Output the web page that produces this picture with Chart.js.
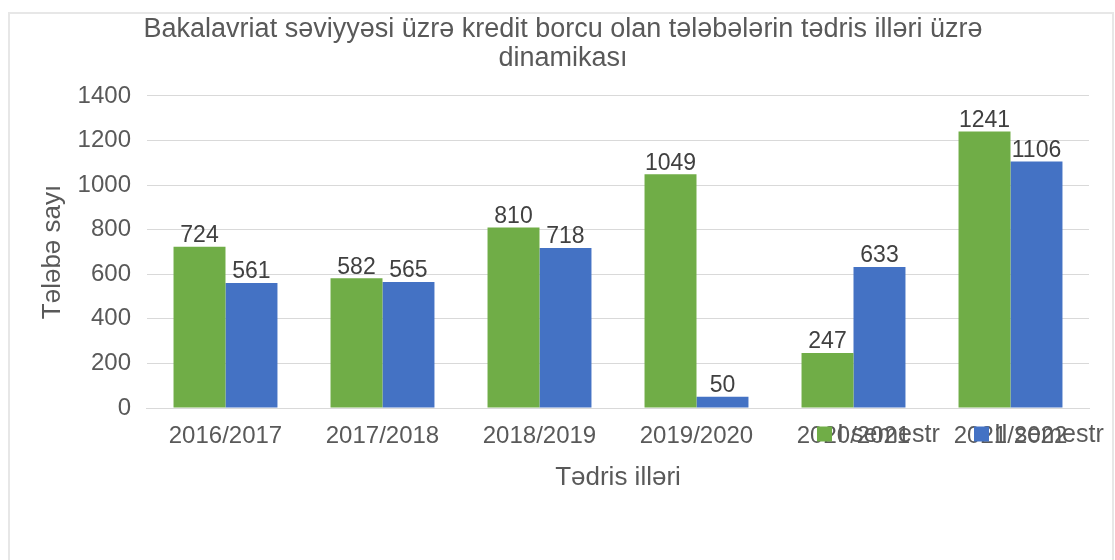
<!DOCTYPE html>
<html>
<head>
<meta charset="utf-8">
<script src="https://cdn.jsdelivr.net/npm/chart.js@4.4.1/dist/chart.umd.min.js"></script>
<style>
  html, body { margin: 0; padding: 0; background: #ffffff; }
  body { width: 1115px; height: 560px; position: relative; overflow: hidden; }
  #frame { position: absolute; left: 8px; top: 12px; width: 1106px; height: 560px; border: 2px solid #e7e7e7; box-sizing: border-box; }
  #c { position: absolute; left: 0; top: 0; }
</style>
</head>
<body>
<div id="frame"></div>
<canvas id="c" width="1115" height="560"></canvas>
<script>
const titleLines = ["Bakalavriat səviyyəsi üzrə kredit borcu olan tələbələrin tədris illəri üzrə", "dinamikası"];
const categories = ["2016/2017", "2017/2018", "2018/2019", "2019/2020", "2020/2021", "2021/2022"];
const seriesNames = ["I semestr", "II semestr"];
const semesterI = [724, 582, 810, 1049, 247, 1241];
const semesterII = [561, 565, 718, 50, 633, 1106];
const yTicks = [0, 200, 400, 600, 800, 1000, 1200, 1400];
const xTitle = "Tədris illəri";
const yTitle = "Tələbə sayı";

const FONT = "'Liberation Sans', Arial, sans-serif";
const TXT = "#595959";

const valueLabels = {
  id: 'valueLabels',
  afterDatasetsDraw(chart) {
    const ctx = chart.ctx;
    ctx.save();
    ctx.font = "23px " + FONT;
    ctx.fillStyle = "#404040";
    ctx.textAlign = "center";
    ctx.textBaseline = "middle";
    chart.data.datasets.forEach((ds, i) => {
      const meta = chart.getDatasetMeta(i);
      meta.data.forEach((bar, j) => {
        ctx.fillText(String(ds.data[j]), bar.x, bar.y - 11);
      });
    });
    ctx.restore();
  }
};

const customLegend = {
  id: 'customLegend',
  afterDraw(chart) {
    const ctx = chart.ctx;
    ctx.save();
    ctx.font = "25px " + FONT;
    ctx.textBaseline = "middle";
    ctx.textAlign = "left";
    const starts = [817, 974];
    const cy = 434;
    chart.data.datasets.forEach((ds, i) => {
      const x = starts[i];
      ctx.fillStyle = ds.backgroundColor;
      ctx.fillRect(x, cy - 7.5, 15, 15);
      ctx.fillStyle = TXT;
      ctx.fillText(ds.label, x + 20, cy + 1);
    });
    ctx.restore();
  }
};

new Chart(document.getElementById('c'), {
  type: 'bar',
  data: {
    labels: categories,
    datasets: [
      { label: seriesNames[0], data: semesterI, backgroundColor: "#70AD47", borderWidth: 0 },
      { label: seriesNames[1], data: semesterII, backgroundColor: "#4472C4", borderWidth: 0 }
    ]
  },
  options: {
    responsive: false,
    animation: false,
    devicePixelRatio: 1,
    layout: { padding: { left: 37, right: 26, top: 0, bottom: 30 } },
    datasets: { bar: { categoryPercentage: 0.662, barPercentage: 1.0 } },
    plugins: {
      legend: { display: false },
      tooltip: { enabled: false },
      title: {
        display: true,
        text: titleLines,
        color: TXT,
        font: { family: FONT, size: 27, weight: 'normal', lineHeight: 1.074 },
        padding: { top: 15.5, bottom: 22.5 }
      }
    },
    scales: {
      x: {
        grid: { display: false, drawTicks: false },
        border: { display: true, color: "#d9d9d9", width: 1 },
        ticks: { color: TXT, font: { family: FONT, size: 24 }, padding: 13.6, maxRotation: 0, autoSkip: false },
        title: { display: true, text: xTitle, color: TXT, font: { family: FONT, size: 26 }, padding: { top: -1.6, bottom: 36.4 } }
      },
      y: {
        min: 0, max: 1400,
        afterBuildTicks(scale) { scale.ticks = yTicks.map(v => ({ value: v })); },
        grid: { color: "#d9d9d9", lineWidth: 1, drawTicks: false },
        border: { display: false },
        ticks: { color: TXT, font: { family: FONT, size: 24 }, padding: 16, callback: (v) => String(v) },
        title: { display: true, text: yTitle, color: TXT, font: { family: FONT, size: 26, lineHeight: 1.0 }, padding: { top: 3, bottom: -4.4 } }
      }
    }
  },
  plugins: [valueLabels, customLegend]
});
</script>
</body>
</html>
